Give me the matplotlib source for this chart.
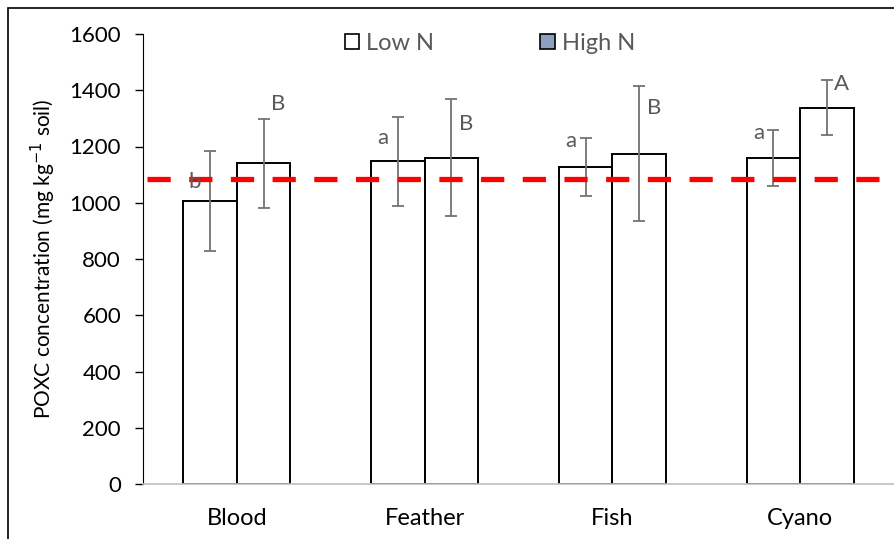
import matplotlib
matplotlib.use("Agg")
import matplotlib.pyplot as plt
import numpy as np
from matplotlib.patches import Patch, Rectangle

plt.rcParams['font.family'] = ['Lato', 'DejaVu Sans']

# data
categories = ['Blood', 'Feather', 'Fish', 'Cyano']
low_n = [1007, 1147, 1127, 1159]
low_err = [178, 159, 104, 101]
high_n = [1140, 1160, 1175, 1338]
high_err = [157, 208, 239, 97]
reference = 1085
low_letters = ['b', 'a', 'a', 'a']
low_letter_y = [1075, 1231, 1220, 1249]
high_letters = ['B', 'B', 'B', 'A']
high_letter_y = [1352, 1281, 1337, 1422]

fig = plt.figure(figsize=(8.94, 5.39), dpi=100)
ax = fig.add_axes([143 / 894, 55 / 539, 751 / 894, 450 / 539])

x = np.arange(len(categories))
w = 0.285
err_kw = dict(ecolor='#737373', elinewidth=1.3, capsize=4, capthick=1.3)
ax.bar(x - w / 2, low_n, w, yerr=low_err, color='white', edgecolor='black',
       linewidth=1.4, error_kw=err_kw, zorder=2)
ax.bar(x + w / 2, high_n, w, yerr=high_err, color='white', edgecolor='black',
       linewidth=1.4, error_kw=err_kw, zorder=2)

# reference line
ax.axhline(reference, xmin=4 / 751, color='#ff0000', linewidth=3.8,
           dashes=(4.4, 3.5), zorder=3)

# significance letters
for i in range(len(categories)):
    ax.text(x[i] - w / 2 - 0.08, low_letter_y[i], low_letters[i], ha='center',
            va='center', fontsize=16, color='#595959', zorder=4)
    ax.text(x[i] + w / 2 + 0.08, high_letter_y[i], high_letters[i], ha='center',
            va='center', fontsize=16, color='#595959', zorder=4)

ax.set_xlim(-0.5, len(categories) - 0.5)
ax.set_ylim(0, 1600)
ax.set_yticks(np.arange(0, 1601, 200))
ax.set_xticks(x)
ax.set_xticklabels(categories)
ax.tick_params(axis='x', length=0, pad=17, labelsize=17)
ax.tick_params(axis='y', length=5.8, width=1, direction='out', pad=10, labelsize=16)
ax.set_ylabel('POXC concentration (mg kg$^{-1}$ soil)', fontsize=15, labelpad=8)

for s in ['top', 'right']:
    ax.spines[s].set_visible(False)
ax.spines['left'].set_color('black')
ax.spines['bottom'].set_color('#bfbfbf')
ax.spines['bottom'].set_linewidth(1.2)

handles = [Patch(facecolor='white', edgecolor='black', linewidth=1.2, label='Low N'),
           Patch(facecolor='#8ea0c0', edgecolor='black', linewidth=1.2, label='High N')]
leg = ax.legend(handles=handles, loc='center', bbox_to_anchor=(0.462, 0.979), ncol=2,
                frameon=False, fontsize=17, handlelength=0.6, handleheight=0.6,
                handletextpad=0.3, columnspacing=4.5)
for t in leg.get_texts():
    t.set_color('#595959')

# outer frame
fig.patches.append(Rectangle((8 / 894, -0.05), 2, 1 - 8 / 539 + 0.05,
                             transform=fig.transFigure, fill=False,
                             edgecolor='black', linewidth=1.2))

fig.savefig('out.png', dpi=100)
